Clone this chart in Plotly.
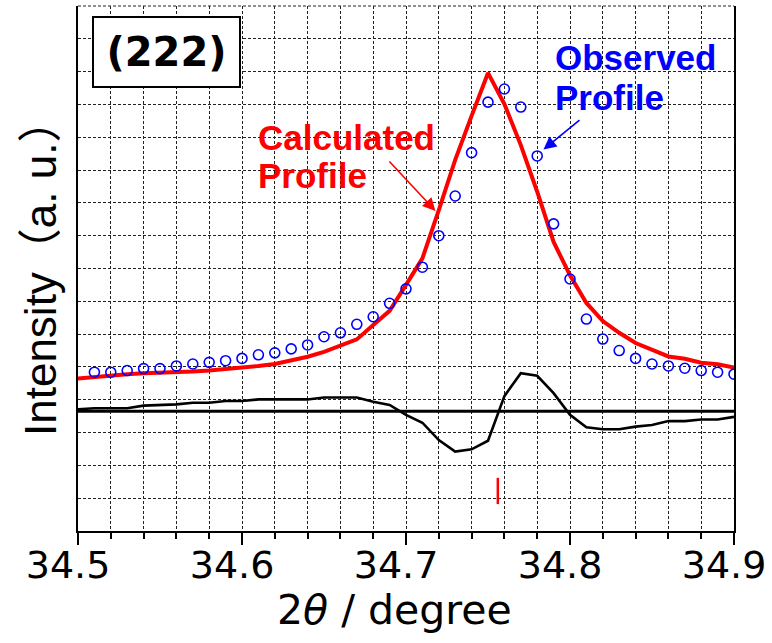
import plotly.graph_objects as go

# ---------------- data ----------------
two_theta_obs = [34.51, 34.52, 34.53, 34.54, 34.55, 34.56, 34.57, 34.58, 34.59, 34.60,
                 34.61, 34.62, 34.63, 34.64, 34.65, 34.66, 34.67, 34.68, 34.69, 34.70,
                 34.71, 34.72, 34.73, 34.74, 34.75, 34.76, 34.77, 34.78, 34.79, 34.80,
                 34.81, 34.82, 34.83, 34.84, 34.85, 34.86, 34.87, 34.88, 34.89, 34.90]
observed = [4.84, 4.84, 4.89, 4.95, 4.95, 5.03, 5.09, 5.14, 5.19, 5.26,
            5.37, 5.43, 5.55, 5.67, 5.92, 6.04, 6.30, 6.53, 6.94, 7.38,
            8.04, 9.00, 10.21, 11.53, 13.07, 13.47, 12.92, 11.43, 9.36, 7.68,
            6.46, 5.85, 5.50, 5.26, 5.09, 5.03, 4.96, 4.89, 4.84, 4.78]

two_theta_calc = [34.50, 34.51, 34.52, 34.53, 34.54, 34.55, 34.56, 34.57, 34.58, 34.59,
                  34.60, 34.61, 34.62, 34.63, 34.64, 34.65, 34.66, 34.67, 34.68, 34.69,
                  34.70, 34.71, 34.72, 34.73, 34.74, 34.75, 34.76, 34.77, 34.78, 34.79,
                  34.80, 34.81, 34.82, 34.83, 34.84, 34.85, 34.86, 34.87, 34.88, 34.89, 34.90]
calculated = [4.65, 4.70, 4.75, 4.78, 4.81, 4.82, 4.84, 4.86, 4.89, 4.93,
              4.98, 5.03, 5.09, 5.19, 5.31, 5.46, 5.65, 5.84, 6.28, 6.71,
              7.50, 8.31, 9.78, 11.31, 12.65, 13.96, 13.01, 11.76, 10.34, 8.81,
              7.79, 6.95, 6.40, 6.04, 5.73, 5.51, 5.32, 5.25, 5.13, 5.08, 4.98]

difference = [3.71, 3.74, 3.74, 3.74, 3.82, 3.84, 3.86, 3.91, 3.91, 3.96,
              3.96, 4.01, 4.01, 4.01, 4.01, 4.07, 4.07, 4.07, 3.94, 3.84,
              3.54, 3.30, 2.77, 2.42, 2.49, 2.75, 4.11, 4.81, 4.73, 4.20,
              3.54, 3.16, 3.10, 3.10, 3.18, 3.23, 3.35, 3.35, 3.40, 3.40, 3.48]
diff_baseline = 3.65

bragg_position = 34.756
bragg_marker = [0.82, 1.62]

x_range = [34.5, 34.9]
y_range = [0, 16]
x_tick_vals = [34.5, 34.6, 34.7, 34.8, 34.9]
x_tick_text = ["34.5", "34.6", "34.7", "34.8", "34.9"]

# ---------------- layout helpers ----------------
W_FIG, H_FIG = 772, 643
L, R, T, B = 78, 734, 6, 531


def px(x):
    return (x - L) / (R - L)


def py(y):
    return (B - y) / (B - T)


GRID = dict(showgrid=True, gridcolor="#222222", gridwidth=1, griddash="3px,2px")
FONT_MAIN = "DejaVu Sans, Liberation Sans, Arial"
FONT_ANN = "Liberation Sans, Arial"

fig = go.Figure()

fig.add_trace(go.Scatter(x=x_range, y=[diff_baseline, diff_baseline], mode="lines",
                         line=dict(color="black", width=3), showlegend=False))
fig.add_trace(go.Scatter(x=two_theta_calc, y=difference, mode="lines",
                         line=dict(color="black", width=2.6), showlegend=False))
fig.add_trace(go.Scatter(x=two_theta_calc, y=calculated, mode="lines",
                         line=dict(color="#ff0000", width=4), showlegend=False))
fig.add_trace(go.Scatter(x=two_theta_obs, y=observed, mode="markers",
                         marker=dict(symbol="circle-open", size=10, color="#0000ff",
                                     line=dict(width=1.6, color="#0000ff")),
                         showlegend=False))
fig.add_trace(go.Scatter(x=[bragg_position, bragg_position], y=bragg_marker, mode="lines",
                         line=dict(color="#ff0000", width=2.5), showlegend=False))

annotations = [
    dict(text="<b>(222)</b>", x=px(166.3), y=py(52.5), xref="paper", yref="paper",
         xanchor="center", yanchor="middle", showarrow=False,
         font=dict(family=FONT_MAIN, size=40, color="black"),
         bordercolor="black", borderwidth=2, bgcolor="white", borderpad=0,
         width=145, height=68),
    dict(text="<b>Observed</b>", x=px(553), y=py(57), xref="paper", yref="paper",
         xanchor="left", yanchor="middle", showarrow=False,
         font=dict(family=FONT_ANN, size=35, color="#0000ff")),
    dict(text="<b>Profile</b>", x=px(553), y=py(97.5), xref="paper", yref="paper",
         xanchor="left", yanchor="middle", showarrow=False,
         font=dict(family=FONT_ANN, size=35, color="#0000ff")),
    dict(text="<b>Calculated</b>", x=px(256), y=py(137.5), xref="paper", yref="paper",
         xanchor="left", yanchor="middle", showarrow=False,
         font=dict(family=FONT_ANN, size=35, color="#ff0000")),
    dict(text="<b>Profile</b>", x=px(256), y=py(175), xref="paper", yref="paper",
         xanchor="left", yanchor="middle", showarrow=False,
         font=dict(family=FONT_ANN, size=35, color="#ff0000")),
    dict(text="", x=px(435.5), y=py(211), xref="paper", yref="paper",
         showarrow=True, ax=388 - 435.5, ay=160 - 211, axref="pixel", ayref="pixel",
         arrowhead=2, arrowsize=1.6, arrowwidth=1.6, arrowcolor="#ff0000", standoff=0),
    dict(text="", x=px(543.5), y=py(149.5), xref="paper", yref="paper",
         showarrow=True, ax=581 - 543.5, ay=119 - 149.5, axref="pixel", ayref="pixel",
         arrowhead=2, arrowsize=1.6, arrowwidth=1.6, arrowcolor="#0000ff", standoff=0),
    dict(text="2<i>θ</i> / degree", x=px(394.5), y=py(610), xref="paper", yref="paper",
         xanchor="center", yanchor="middle", showarrow=False,
         font=dict(family=FONT_MAIN, size=41, color="black")),
    dict(text="Intensity（a. u.）", x=px(40), y=py(268), xref="paper", yref="paper",
         xanchor="center", yanchor="middle", showarrow=False, textangle=-90,
         font=dict(family="Liberation Sans, Arial, Noto Sans CJK JP", size=44, color="black")),
]

shapes = [
    dict(type="line", xref="paper", yref="paper", x0=0, x1=1, y0=1, y1=1,
         line=dict(color="#222222", width=1, dash="3px,2px")),
]

fig.update_layout(
    width=W_FIG, height=H_FIG,
    margin=dict(l=L, r=W_FIG - R, t=T, b=H_FIG - B, pad=0),
    paper_bgcolor="white", plot_bgcolor="white",
    showlegend=False,
    annotations=annotations,
    shapes=shapes,
    xaxis=dict(range=x_range, tickmode="array", tickvals=x_tick_vals, ticktext=x_tick_text,
               ticks="outside", ticklen=12, tickwidth=2, tickcolor="black",
               showline=True, linecolor="black", linewidth=2, mirror=False,
               zeroline=False, ticklabelshift=-10, ticklabelstandoff=-13,
               tickfont=dict(family=FONT_MAIN, size=38, color="black"),
               minor=dict(dtick=0.02, tick0=34.5, ticks="outside", ticklen=6, tickwidth=1.5,
                          tickcolor="black", **GRID),
               **GRID),
    yaxis=dict(range=y_range, dtick=1, tick0=0, showticklabels=False, ticks="",
               showline=True, linecolor="black", linewidth=2, mirror=True,
               zeroline=False, **GRID),
)

fig.write_html("out.html")
